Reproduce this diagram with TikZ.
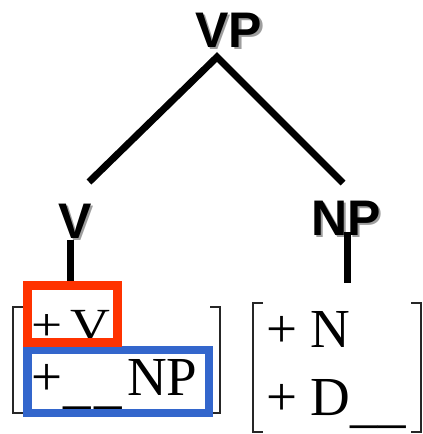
\documentclass[tikz,border=0pt]{standalone}
\usepackage{fontspec}
\setmainfont{Liberation Serif}
\newfontfamily\catfont{Liberation Sans}
\newfontfamily\widefont[FakeStretch=1.2]{Liberation Serif}
\definecolor{headred}{HTML}{FF3300}
\definecolor{argblue}{HTML}{3366CC}
% category label with a soft grey drop shadow behind it
\newcommand\shadowed[1]{\rlap{\kern2.5pt\raisebox{-2.5pt}{\textcolor{black!38}{#1}}}#1}
\begin{document}
\begin{tikzpicture}[x=1pt,y=-1pt,
  cat/.style={font=\catfont\bfseries\fontsize{50}{50}\selectfont, inner sep=0, anchor=base},
  branch/.style={line width=7pt},
  feat/.style={font=\fontsize{55}{55}\selectfont, inner sep=0, anchor=base west},
  bracket/.style={line width=1.4pt, black!85},
  featbox/.style={line width=8.5pt}]
\useasboundingbox (0,0) rectangle (423,434);

% category labels
\node[cat] (vp) at (228.5,47) {\shadowed{VP}};
\node[cat] (v) at (75,238) {\shadowed{V}};
\node[cat] (np) at (346,235) {\shadowed{NP}};

% branch end points
\coordinate (vp-foot) at (217,57);
\coordinate (v-head) at (89,182);
\coordinate (np-head) at (343,183);
\coordinate (v-stem-top) at (70,240);
\coordinate (v-stem-bot) at (70,283);
\coordinate (np-stem-top) at (347,232);
\coordinate (np-stem-bot) at (347,283);

\draw[branch] (v-head) -- (vp-foot) -- (np-head);
\draw[branch] (v-stem-top) -- (v-stem-bot);
\draw[branch] (np-stem-top) -- (np-stem-bot);

% feature matrix of V
\draw[bracket] (23,307) -- (13,307) -- (13,413) -- (23,413);
\draw[bracket] (210,307) -- (220,307) -- (220,413) -- (210,413);
\node[font=\widefont\fontsize{46}{46}\selectfont, inner sep=0, anchor=base west]
  (vfeat) at (31,340) {+\kern8pt V};
\node[feat] (vsub) at (31,395)
  {+\kern1pt\raisebox{-7pt}{\_}\kern4pt\raisebox{-7pt}{\_}\kern5pt NP};

% highlight boxes
\draw[featbox, argblue] (27.5,350) rectangle (209,413);
\draw[featbox, headred] (27.5,285.5) rectangle (117.5,342.5);

% feature matrix of NP
\draw[bracket] (263,303) -- (253,303) -- (253,432) -- (263,432);
\draw[bracket] (411,303) -- (421,303) -- (421,432) -- (411,432);
\node[feat] (nfeat) at (266,347) {+ N};
\node[feat] (dfeat) at (266,415) {+ D\raisebox{-6pt}{\_\_}};
\end{tikzpicture}
\end{document}
